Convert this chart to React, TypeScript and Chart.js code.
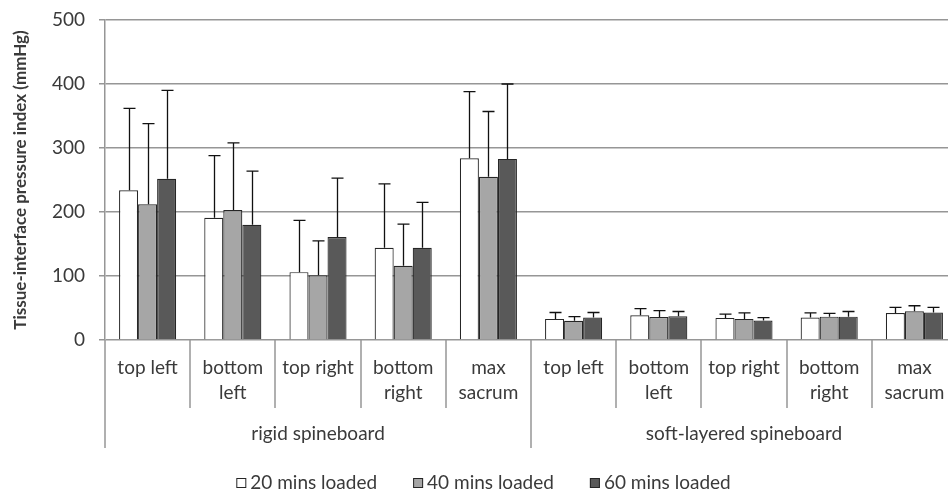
import React, { useEffect, useRef } from "react";
import { Chart, registerables } from "chart.js";

Chart.register(...registerables);

// Sub-location labels (repeated under each board type) and board groups
const subLabels: string[][] = [
  ["top left"],
  ["bottom", "left"],
  ["top right"],
  ["bottom", "right"],
  ["max", "sacrum"],
];
const boards = ["rigid spineboard", "soft-layered spineboard"];
const categories = boards.flatMap((b) => subLabels.map((s) => `${b} ${s.join(" ")}`));

const seriesNames = ["20 mins loaded", "40 mins loaded", "60 mins loaded"];

// Mean tissue-interface pressure index (mmHg)
const mean20 = [234, 191, 106, 144, 284, 33, 38.5, 34.5, 35, 42];
const mean40 = [212, 203, 101, 116, 255, 30, 36, 33, 36.5, 45];
const mean60 = [252, 180, 161, 144, 283, 35, 37, 30.5, 36.5, 43];

// Standard deviations (upper error bars)
const sd20 = [128, 97, 81, 100, 104, 10, 10.5, 6, 7.5, 9];
const sd40 = [126, 105, 54, 65, 102, 6.5, 10, 9.5, 5, 8.5];
const sd60 = [138, 84, 92, 71, 117, 8, 7.5, 4.5, 8, 8];

const yTicks = [0, 100, 200, 300, 400, 500];

const FILLS = ["#ffffff", "#a6a6a6", "#595959"];
const TEXT = "#3a3a3a";
const GRID = "#969696";
const FONT = "Lato";
const LABEL_SIZE = 19;

const errorBars = {
  id: "errorBars",
  afterDatasetsDraw(chart: any) {
    const { ctx } = chart;
    const y = chart.scales.y;
    const sds = [sd20, sd40, sd60];
    ctx.save();
    ctx.strokeStyle = "#111111";
    ctx.lineWidth = 1.3;
    chart.data.datasets.forEach((ds: any, di: number) => {
      const meta = chart.getDatasetMeta(di);
      meta.data.forEach((bar: any, i: number) => {
        const top = y.getPixelForValue(ds.data[i] + sds[di][i]);
        const base = y.getPixelForValue(ds.data[i]);
        const cx = Math.round(bar.x) + 0.5;
        ctx.beginPath();
        ctx.moveTo(cx, base);
        ctx.lineTo(cx, top);
        ctx.moveTo(cx - 6, top);
        ctx.lineTo(cx + 6, top);
        ctx.stroke();
      });
    });
    ctx.restore();
  },
};

const groupedAxis = {
  id: "groupedAxis",
  afterDraw(chart: any) {
    const { ctx, chartArea } = chart;
    const x = chart.scales.x;
    const n = categories.length;
    const per = subLabels.length;
    const step = x.getPixelForValue(1) - x.getPixelForValue(0);
    const edge = (i: number) => x.getPixelForValue(0) - step / 2 + i * step;
    const bottom = chartArea.bottom;

    ctx.save();
    // separators
    ctx.strokeStyle = GRID;
    ctx.lineWidth = 1.5;
    for (let i = 0; i <= n; i++) {
      const px = Math.round(edge(i));
      const len = i % per === 0 ? 108 : 68;
      ctx.beginPath();
      ctx.moveTo(px, bottom);
      ctx.lineTo(px, bottom + len);
      ctx.stroke();
    }
    // sub labels
    ctx.fillStyle = TEXT;
    ctx.font = `${LABEL_SIZE}px ${FONT}`;
    ctx.textAlign = "center";
    ctx.textBaseline = "middle";
    for (let i = 0; i < n; i++) {
      const lines = subLabels[i % per];
      const cx = x.getPixelForValue(i);
      lines.forEach((t, j) => ctx.fillText(t, cx, bottom + 28 + j * 25));
    }
    // group labels
    boards.forEach((b, g) => {
      const cx = (edge(g * per) + edge((g + 1) * per)) / 2;
      ctx.fillText(b, cx, bottom + 94);
    });

    // legend
    const box = 10;
    const gapText = 4;
    const gapItem = 36;
    const widths = seriesNames.map((s) => box + gapText + ctx.measureText(s).width);
    const total = widths.reduce((a, b) => a + b, 0) + gapItem * (widths.length - 1);
    let lx = 483.5 - total / 2;
    const ly = 483;
    ctx.textAlign = "left";
    seriesNames.forEach((s, k) => {
      ctx.fillStyle = FILLS[k];
      ctx.fillRect(lx, ly - box / 2, box, box);
      ctx.strokeStyle = "#262626";
      ctx.lineWidth = 1;
      ctx.strokeRect(lx + 0.5, ly - box / 2 + 0.5, box - 1, box - 1);
      ctx.fillStyle = TEXT;
      ctx.fillText(s, lx + box + gapText, ly);
      lx += widths[k] + gapItem;
    });
    ctx.restore();
  },
};

export default function App() {
  const ref = useRef<HTMLCanvasElement | null>(null);

  useEffect(() => {
    if (!ref.current) return;
    const means = [mean20, mean40, mean60];
    const chart = new Chart(ref.current, {
      type: "bar",
      data: {
        labels: categories,
        datasets: seriesNames.map((name, k) => ({
          label: name,
          data: means[k],
          backgroundColor: FILLS[k],
          borderColor: "#262626",
          borderWidth: 1.2,
          barPercentage: 1,
          categoryPercentage: 0.67,
        })),
      },
      options: {
        animation: false,
        responsive: false,
        maintainAspectRatio: false,
        layout: { padding: { top: 20, right: 1, bottom: 153, left: 0 } },
        plugins: {
          legend: { display: false },
          tooltip: { enabled: false },
        },
        scales: {
          x: { display: false },
          y: {
            min: 0,
            max: 500,
            afterBuildTicks: (s: any) => {
              s.ticks = yTicks.map((v) => ({ value: v }));
            },
            afterFit: (s: any) => {
              s.width = 105;
              s.paddingTop = 0;
              s.paddingBottom = 0;
            },
            ticks: {
              color: TEXT,
              font: { family: FONT, size: LABEL_SIZE },
              padding: 14,
            },
            grid: { color: GRID, lineWidth: 1.5, tickLength: 6, drawTicks: true },
            border: { color: GRID, width: 1.5 },
            title: {
              display: true,
              text: "Tissue-interface pressure index (mmHg)",
              color: TEXT,
              font: { family: FONT, size: 17, weight: "bold" },
              padding: { top: 10, bottom: 0 },
            },
          },
        },
      },
      plugins: [errorBars, groupedAxis],
    });
    return () => chart.destroy();
  }, []);

  return (
    <div
      style={{
        position: "fixed",
        left: 0,
        top: 0,
        width: 948,
        height: 493,
        overflow: "hidden",
        background: "#ffffff",
      }}
    >
      <canvas ref={ref} width={958} height={493} style={{ width: 958, height: 493, display: "block" }} />
    </div>
  );
}
